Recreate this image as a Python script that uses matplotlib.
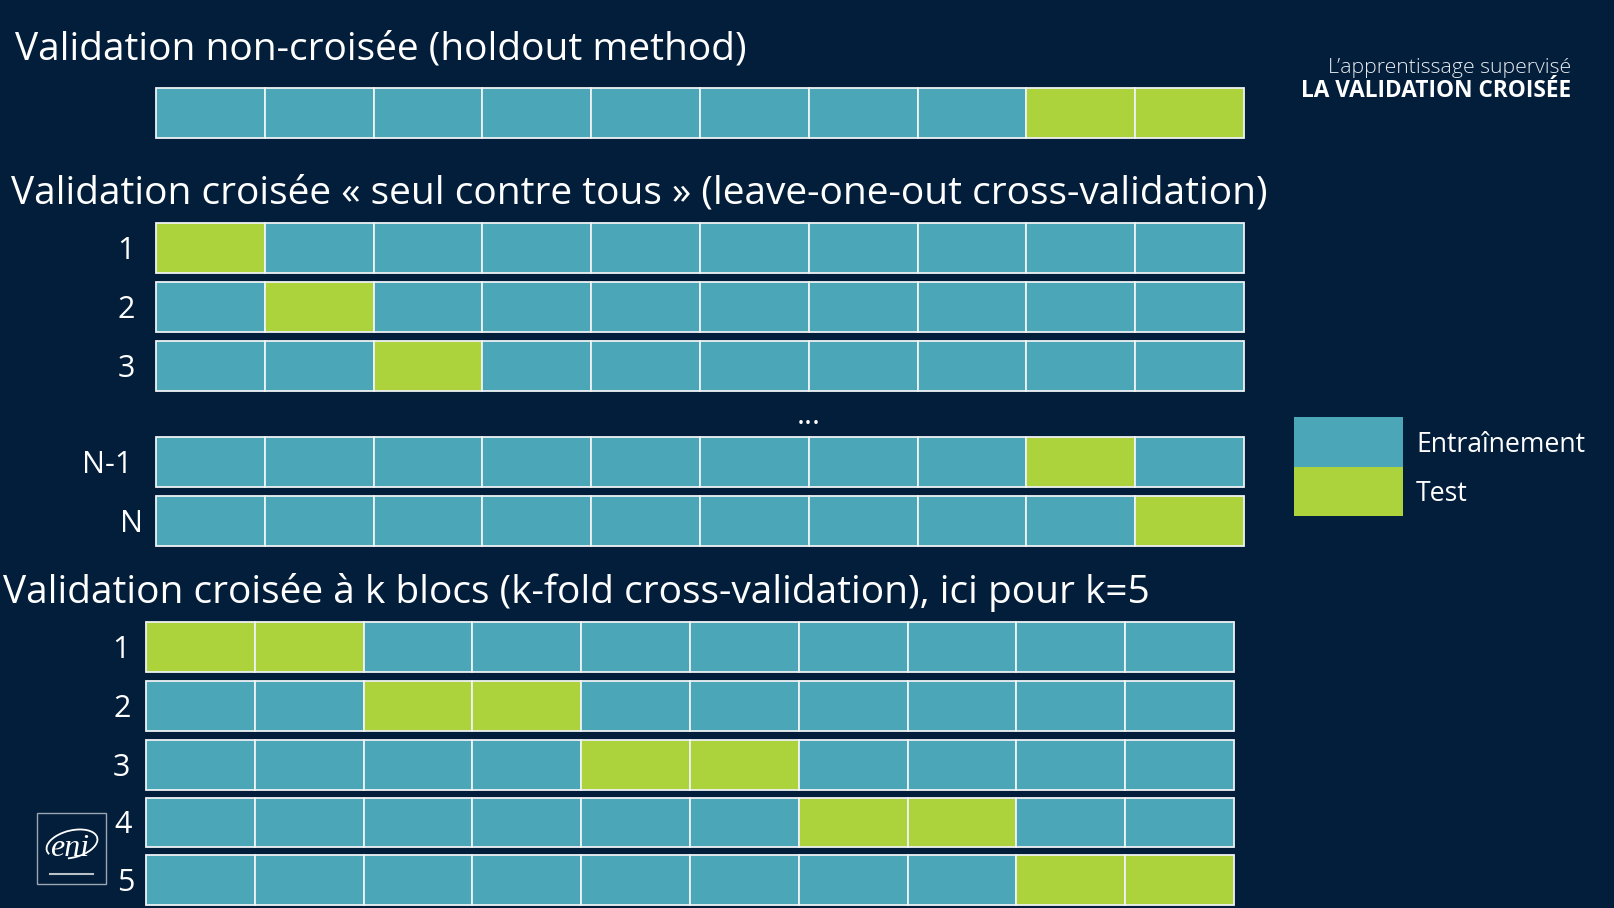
import matplotlib
matplotlib.use("Agg")
import matplotlib.pyplot as plt
from matplotlib.patches import Rectangle, Arc
import numpy as np

plt.rcParams['font.family'] = ['Open Sans', 'DejaVu Sans']

# ---------------- data ----------------
n_blocks = 10
holdout_test = [8, 9]

loo_labels = ["1", "2", "3", "N-1", "N"]
loo_test = [[0], [1], [2], [8], [9]]

kfold_labels = ["1", "2", "3", "4", "5"]
kfold_test = [[0, 1], [2, 3], [4, 5], [6, 7], [8, 9]]

title_holdout = "Validation non-croisée (holdout method)"
title_loo = "Validation croisée « seul contre tous » (leave-one-out cross-validation)"
title_kfold = "Validation croisée à k blocs (k-fold cross-validation), ici pour k=5"
header_light = "L\u2019apprentissage supervisé"
header_bold = "LA VALIDATION CROISÉE"
legend_labels = ["Entraînement", "Test"]

# ---------------- style ----------------
BG = "#031E3A"
TEAL = "#4BA6B8"
GREEN = "#ACD23C"
EDGE = "#EEF2F3"
WHITE = "#FFFFFF"

W, H = 1614, 908
fig = plt.figure(figsize=(W / 100, H / 100), dpi=100, facecolor=BG)
ax = fig.add_axes([0, 0, 1, 1])
ax.set_xlim(0, W)
ax.set_ylim(H, 0)
ax.set_facecolor(BG)
ax.axis("off")

CELL_W = 108.8
ROW_H = 49.5
TITLE_FS = 28


def draw_row(x0, ytop, test_idx):
    lefts = x0 + np.arange(n_blocks) * CELL_W
    colors = [GREEN if i in test_idx else TEAL for i in range(n_blocks)]
    ax.bar(lefts, ROW_H, width=CELL_W, bottom=ytop, align="edge",
           color=colors, edgecolor=EDGE, linewidth=1.3, zorder=2)


def cap_base(center, size):
    # baseline y so that capitals are vertically centred on `center`
    return center + size * 100 / 72 * 0.714 / 2


# ---- holdout ----
ax.text(15, 59.5, title_holdout, fontsize=TITLE_FS, color=WHITE, ha="left", va="baseline")
draw_row(156, 88, holdout_test)

# ---- leave-one-out ----
ax.text(11, 203.5, title_loo, fontsize=TITLE_FS, color=WHITE, ha="left", va="baseline")
loo_tops = [223.4, 282.0, 341.0, 437.3, 496.0]
loo_lab_x = [135, 135, 135, 132, 143]
for lab, tst, yt, lx in zip(loo_labels, loo_test, loo_tops, loo_lab_x):
    draw_row(156, yt, tst)
    ax.text(lx, cap_base(yt + ROW_H / 2, 22), lab, fontsize=22, color=WHITE,
            ha="right", va="baseline")
ax.text(156 + 6 * CELL_W, 423.5, "...", fontsize=22, color=WHITE,
        ha="center", va="baseline")

# ---- k-fold ----
ax.text(3, 603, title_kfold, fontsize=TITLE_FS, color=WHITE, ha="left", va="baseline")
kf_tops = [622.3, 681.0, 740.0, 797.5, 855.3]
kf_lab_x = [130, 131, 130, 132, 135]
for lab, tst, yt, lx in zip(kfold_labels, kfold_test, kf_tops, kf_lab_x):
    draw_row(146, yt, tst)
    ax.text(lx, cap_base(yt + ROW_H / 2, 22), lab, fontsize=22, color=WHITE,
            ha="right", va="baseline")

# ---- legend ----
leg_x, leg_w = 1294, 108.7
leg_tops = [417.3, 466.7]
for lab, col, yt in zip(legend_labels, [TEAL, GREEN], leg_tops):
    ax.add_patch(Rectangle((leg_x, yt), leg_w, 49.6, facecolor=col,
                           edgecolor="none", zorder=2))
    ax.text(1416, cap_base(yt + 25, 19.2), lab, fontsize=19.2, color=WHITE,
            ha="left", va="baseline")

# ---- header top right ----
ax.text(1571, 73.3, header_light, fontsize=15.3, color="#E8ECF0", ha="right",
        va="baseline", fontweight="light")
ax.text(1571, 97, header_bold, fontsize=16.3, color=WHITE, ha="right",
        va="baseline", fontweight="bold")

# ---- logo ----
ax.add_patch(Rectangle((37, 813), 69, 71, facecolor="none", edgecolor="#9AA6B2",
                       linewidth=1.0, zorder=3))
ax.text(70, 856.5, "eni", fontsize=23, color=WHITE, ha="center", va="baseline",
        family="Liberation Serif", style="italic")
ax.add_patch(Arc((72, 844), 52, 27, angle=-14, theta1=170, theta2=120,
                 color=WHITE, linewidth=1.3, zorder=3))
ax.plot([50, 93], [873.5, 873.5], color="#B8C0C8", linewidth=1.5, zorder=3)

fig.savefig("out.png", dpi=100, facecolor=BG)
